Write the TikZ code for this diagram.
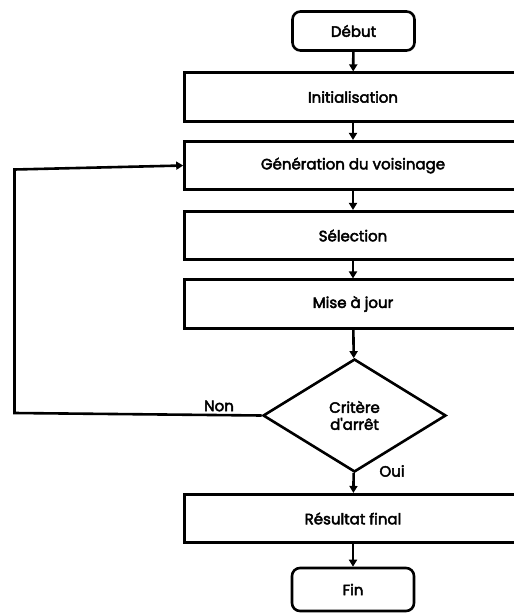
\documentclass[tikz,border=0pt]{standalone}
\usepackage{fontspec}
\setmainfont{Poppins}
\newfontface\boxfont{Poppins}[FakeBold=3]
\usetikzlibrary{shapes.geometric,arrows.meta}
\begin{document}
\begin{tikzpicture}[x=1pt,y=-1pt,
  every node/.style={font=\boxfont\fontsize{15}{17}\selectfont},
  edge/.style={line width=2.6pt},
  flow/.style={edge,-{Triangle[length=7pt,width=8pt]}},
  proc/.style={draw,line width=2.6pt,minimum width=337pt,minimum height=48.5pt,inner sep=0pt},
  term/.style={draw,line width=2.6pt,rounded corners=8pt,minimum width=122pt,inner sep=0pt},
  cond/.style={draw,line width=2.6pt,diamond,minimum width=183pt,minimum height=113pt,inner sep=0pt,align=center},
  lbl/.style={inner sep=0pt}]
\useasboundingbox (0,0) rectangle (514,616);
% boxes, top to bottom
\node[term,minimum height=39pt] (debut) at (353.5,31) {Début};
\node[proc] (init) at (353,97) {Initialisation};
\node[proc] (gen) at (353,165.5) {Génération du voisinage};
\node[proc] (sel) at (353,235.5) {Sélection};
\node[proc] (maj) at (353,304) {Mise à jour};
\node[cond] (crit) at (354.5,415.5) {Critère\\d'arrêt};
\node[proc] (res) at (353,518.5) {Résultat final};
\node[term,minimum height=43pt] (fin) at (353,589.5) {Fin};
% branch labels
\node[lbl] (non) at (219,406) {Non};
\node[lbl] (oui) at (392,471) {Oui};
% main flow
\draw[flow] (debut) -- (init);
\draw[flow] (init) -- (gen);
\draw[flow] (gen) -- (sel);
\draw[flow] (sel) -- (maj);
\draw[flow] (maj) -- (crit);
\draw[flow] (crit) -- (res);
\draw[flow] (res) -- (fin);
% loop back on "Non"
\coordinate (loopb) at (14.5,413);
\coordinate (loopt) at (14.5,169.5);
\draw[flow,line join=miter] (crit.west) -- (loopb) -- (loopt) -- (gen.west);
\end{tikzpicture}
\end{document}
